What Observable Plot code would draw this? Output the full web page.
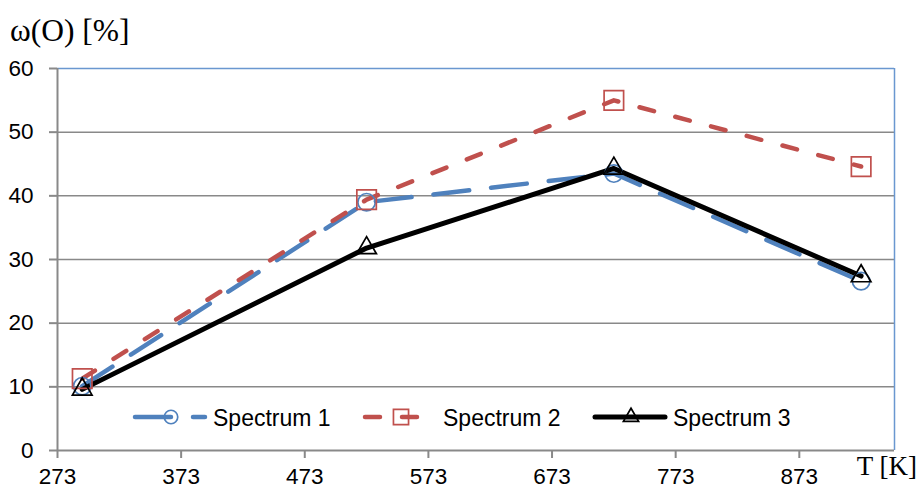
<!DOCTYPE html>
<html>
<head>
<meta charset="utf-8">
<script src="https://cdn.jsdelivr.net/npm/d3@7"></script>
<script src="https://cdn.jsdelivr.net/npm/@observablehq/plot@0.6"></script>
<style>
  html, body { margin: 0; padding: 0; background: #fff; }
  #chart { width: 919px; height: 489px; }
</style>
</head>
<body>
<div id="chart"></div>
<script>
// Oxygen mass fraction vs. temperature for three spectra
const temperatures = [293, 523, 723, 923];
const spectrum1 = [10.1, 39.0, 43.5, 26.6];
const spectrum2 = [11.3, 39.4, 55.0, 44.6];
const spectrum3 = [9.6, 31.8, 44.3, 27.4];
const seriesNames = ["Spectrum 1", "Spectrum 2", "Spectrum 3"];
const xTicks = [273, 373, 473, 573, 673, 773, 873];
const yTicks = [0, 10, 20, 30, 40, 50, 60];
const xDomain = [273, 950];
const yDomain = [0, 60];

const blue = "#4F81BD";
const red = "#C0504D";
const black = "#000000";
const grey = "#898989";
const frameBlue = "#6A97D0";

const rows = (values) => temperatures.map((t, i) => ({t, v: values[i]}));
const s1 = rows(spectrum1), s2 = rows(spectrum2), s3 = rows(spectrum3);

const styles = [
  {stroke: blue, strokeWidth: 4.5, dash: "36,22", symbol: "circle", r: 8.7},
  {stroke: red, strokeWidth: 4.5, dash: "15,22", symbol: "square", r: 11},
  {stroke: black, strokeWidth: 5, dash: null, symbol: "triangle", r: 7.3}
];

const lineMark = (data, s) => Plot.line(data, {
  x: "t", y: "v", stroke: s.stroke, strokeWidth: s.strokeWidth,
  strokeDasharray: s.dash, strokeLinecap: "round", strokeLinejoin: "round"
});
const dotMark = (data, s) => Plot.dot(data, {
  x: "t", y: "v", symbol: s.symbol, r: s.r, stroke: s.stroke,
  strokeWidth: 1.7, fill: "none"
});

const chart = Plot.plot({
  width: 919,
  height: 489,
  marginLeft: 57,
  marginRight: 25,
  marginTop: 68,
  marginBottom: 39,
  style: {fontFamily: "'Liberation Sans', Arial, sans-serif", fontSize: "22px", background: "#fff", color: "#000"},
  x: {domain: xDomain},
  y: {domain: yDomain},
  marks: [
    Plot.ruleY(yTicks.filter(d => d > 0 && d < 60), {stroke: grey, strokeWidth: 1.5}),
    Plot.ruleY([yDomain[1]], {stroke: frameBlue, strokeWidth: 1.5}),
    Plot.ruleX([xDomain[1]], {stroke: frameBlue, strokeWidth: 1.5}),
    Plot.ruleX([xDomain[0]], {stroke: grey, strokeWidth: 2}),
    Plot.ruleY([yDomain[0]], {stroke: grey, strokeWidth: 2}),
    Plot.axisX({ticks: xTicks, tickSize: 8, tickPadding: 10, stroke: grey, strokeWidth: 2, fill: "#000", fontSize: 22.5, label: null, tickFormat: d => String(d)}),
    Plot.axisY({ticks: yTicks, tickSize: 8, tickPadding: 16, stroke: grey, strokeWidth: 2, fill: "#000", fontSize: 22.5, label: null, tickFormat: d => String(d)}),
    lineMark(s1, styles[0]),
    lineMark(s2, styles[1]),
    lineMark(s3, styles[2]),
    dotMark(s1, styles[0]),
    dotMark(s2, styles[1]),
    dotMark(s3, styles[2])
  ]
});

const svg = d3.select(chart);
const serif = "'Liberation Serif', 'Times New Roman', serif";

// axis titles
svg.append("text")
  .attr("x", 10).attr("y", 41)
  .attr("text-anchor", "start")
  .style("font-family", serif)
  .style("font-size", "31.5px")
  .attr("fill", "#000")
  .text("ω(O) [%]");
svg.append("text")
  .attr("x", 917).attr("y", 475)
  .attr("text-anchor", "end")
  .style("font-family", serif)
  .style("font-size", "27px")
  .attr("fill", "#000")
  .text("T [K]");

// legend inside the plot area
const legend = svg.append("g").attr("transform", "translate(135,417)");
const symbolTypes = {circle: d3.symbolCircle, square: d3.symbolSquare, triangle: d3.symbolTriangle};
seriesNames.forEach((name, i) => {
  const s = styles[i];
  const g = legend.append("g").attr("transform", `translate(${i * 230},0)`);
  g.append("line")
    .attr("x1", 0).attr("x2", 70).attr("y1", 0).attr("y2", 0)
    .attr("stroke", s.stroke).attr("stroke-width", s.strokeWidth)
    .attr("stroke-linecap", "round")
    .attr("stroke-dasharray", s.dash);
  g.append("path")
    .attr("transform", "translate(36,0)")
    .attr("d", d3.symbol(symbolTypes[s.symbol], Math.PI * s.r * s.r * 0.6)())
    .attr("fill", "none")
    .attr("stroke", s.stroke).attr("stroke-width", 1.7);
  g.append("text")
    .attr("x", 78).attr("y", 8.5)
    .attr("text-anchor", "start")
    .style("font-size", "23px")
    .attr("fill", "#000")
    .text(name);
});

document.getElementById("chart").appendChild(chart);
</script>
</body>
</html>
